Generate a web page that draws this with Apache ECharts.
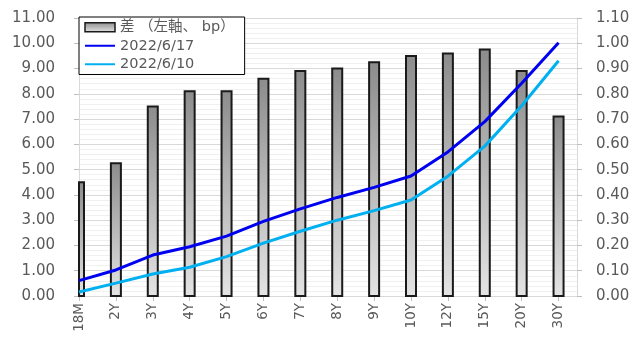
<!DOCTYPE html>
<html>
<head>
<meta charset="utf-8">
<script src="https://cdn.jsdelivr.net/npm/echarts@6/dist/echarts.min.js"></script>
<style>
  html, body { margin: 0; padding: 0; background: #fff; }
  #chart { width: 636px; height: 344px; }
</style>
</head>
<body>
<div id="chart"></div>
<script>
// Tenors along the curve
const terms = ['18M', '2Y', '3Y', '4Y', '5Y', '6Y', '7Y', '8Y', '9Y', '10Y', '12Y', '15Y', '20Y', '30Y'];
// Week-on-week change, bp (left axis)
const diffBp = [4.5, 5.25, 7.5, 8.1, 8.1, 8.6, 8.9, 9.0, 9.25, 9.5, 9.6, 9.75, 8.9, 7.1];
// Yield curves, % (right axis)
const yield0617 = [0.061, 0.103, 0.162, 0.195, 0.237, 0.295, 0.345, 0.390, 0.430, 0.475, 0.570, 0.690, 0.842, 1.002];
const yield0610 = [0.016, 0.051, 0.087, 0.114, 0.156, 0.209, 0.256, 0.300, 0.338, 0.380, 0.474, 0.593, 0.753, 0.931];

const seriesNames = ['差（左軸、bp）', '2022/6/17', '2022/6/10'];

const FONT = "'DejaVu Sans', 'Noto Sans CJK JP', sans-serif";
const TEXT = '#595959';
const BAR_W = 10;
const idx = terms.map((_, i) => i);
const pairs = arr => arr.map((v, i) => [i, v]);

const barFill = new echarts.graphic.LinearGradient(0, 0, 0, 1, [
  { offset: 0, color: '#8c8c8c' },
  { offset: 1, color: '#e4e4e4' }
]);

// Bars are drawn as a custom series so the first one is cut at the plot edge
function renderBar(params, api) {
  const x = api.value(0);
  const v = api.value(1);
  const base = api.coord([x, 0]);
  const top = api.coord([x, v]);
  const cs = params.coordSys;
  const rect = echarts.graphic.clipRectByRect(
    { x: base[0] - BAR_W / 2, y: top[1], width: BAR_W, height: base[1] - top[1] },
    { x: cs.x, y: cs.y, width: cs.width, height: cs.height }
  );
  if (!rect) return;
  return {
    type: 'rect',
    shape: rect,
    style: { fill: barFill, stroke: '#1a1a1a', lineWidth: 2 }
  };
}

const chart = echarts.init(document.getElementById('chart'), null, { renderer: 'canvas' });

chart.setOption({
  animation: false,
  backgroundColor: '#ffffff',
  textStyle: { fontFamily: FONT },
  grid: { left: 79, right: 59, top: 18, bottom: 48 },
  legend: {
    orient: 'vertical',
    left: 79,
    top: 17,
    padding: [3, 10, 3, 5],
    itemGap: 4,
    itemWidth: 30,
    itemHeight: 9,
    backgroundColor: '#ffffff',
    borderColor: '#000000',
    borderWidth: 1,
    textStyle: { color: TEXT, fontSize: 14.5, fontFamily: FONT },
    data: [
      { name: seriesNames[0], icon: 'rect', itemStyle: { color: barFill, borderColor: '#1a1a1a', borderWidth: 1.5 } },
      { name: seriesNames[1], itemStyle: { opacity: 0 } },
      { name: seriesNames[2], itemStyle: { opacity: 0 } }
    ],
    formatter: name => name === seriesNames[0] ? '差 （左軸、 bp）' : name
  },
  xAxis: {
    type: 'value',
    min: 0,
    max: 13.5,
    interval: 1,
    splitLine: { show: false },
    axisLine: { show: true, onZero: false, lineStyle: { color: '#d9d9d9', width: 1 } },
    axisTick: { show: true, customValues: idx, length: 5, lineStyle: { color: '#bfbfbf' } },
    axisLabel: {
      customValues: idx,
      rotate: 90,
      margin: 7,
      color: TEXT,
      fontSize: 13.5,
      fontFamily: FONT,
      formatter: v => (Number.isInteger(v) && terms[v] !== undefined) ? terms[v] : ''
    }
  },
  yAxis: [
    {
      type: 'value',
      min: 0,
      max: 11,
      interval: 1,
      axisLine: { show: true, lineStyle: { color: '#d9d9d9' } },
      axisTick: { show: true, length: 5, lineStyle: { color: '#bfbfbf' } },
      axisLabel: { color: TEXT, fontSize: 15, fontFamily: FONT, margin: 24, formatter: v => v.toFixed(2) },
      splitLine: { show: true, lineStyle: { color: '#d9d9d9', width: 1 } },
      minorTick: { show: false, splitNumber: 5 },
      minorSplitLine: { show: true, lineStyle: { color: '#f0f0f0', width: 1 } }
    },
    {
      type: 'value',
      min: 0,
      max: 1.1,
      interval: 0.1,
      position: 'right',
      axisLine: { show: true, lineStyle: { color: '#d9d9d9' } },
      axisTick: { show: true, length: 5, lineStyle: { color: '#bfbfbf' } },
      axisLabel: { color: TEXT, fontSize: 15, fontFamily: FONT, margin: 19, formatter: v => v.toFixed(2) },
      splitLine: { show: false }
    }
  ],
  series: [
    {
      name: seriesNames[0],
      type: 'custom',
      yAxisIndex: 0,
      renderItem: renderBar,
      encode: { x: 0, y: 1 },
      itemStyle: { color: '#a6a6a6', borderColor: '#1a1a1a', borderWidth: 1.5 },
      data: pairs(diffBp),
      z: 2
    },
    {
      name: seriesNames[1],
      type: 'line',
      yAxisIndex: 1,
      symbol: 'none',
      lineStyle: { color: '#0000f0', width: 3 },
      itemStyle: { color: '#0000f0' },
      data: pairs(yield0617),
      z: 4
    },
    {
      name: seriesNames[2],
      type: 'line',
      yAxisIndex: 1,
      symbol: 'none',
      lineStyle: { color: '#00b0f0', width: 3 },
      itemStyle: { color: '#00b0f0' },
      data: pairs(yield0610),
      z: 3
    }
  ]
});
</script>
</body>
</html>
